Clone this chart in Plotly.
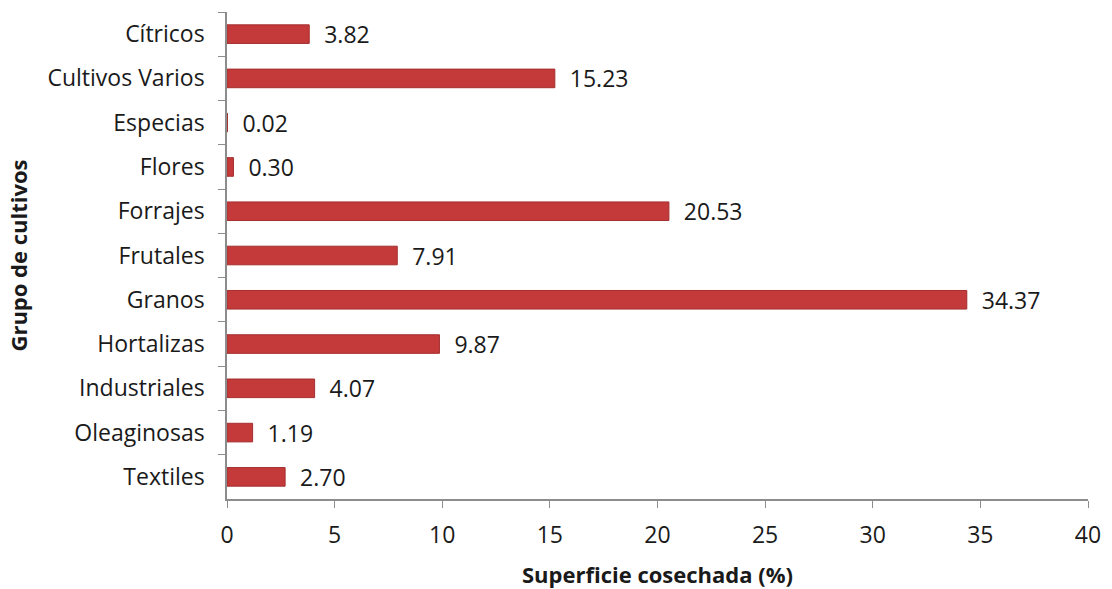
import plotly.graph_objects as go

# Crop groups and their share of harvested area (%)
grupos = ['Cítricos', 'Cultivos Varios', 'Especias', 'Flores', 'Forrajes', 'Frutales',
          'Granos', 'Hortalizas', 'Industriales', 'Oleaginosas', 'Textiles']
superficie = [3.82, 15.23, 0.02, 0.30, 20.53, 7.91, 34.37, 9.87, 4.07, 1.19, 2.70]
x_ticks = [0, 5, 10, 15, 20, 25, 30, 35, 40]

FONT = 'Open Sans'

fig = go.Figure()
fig.add_trace(go.Bar(
    x=superficie, y=grupos, orientation='h', width=0.42,
    marker=dict(color='#C43A3A', line=dict(color='#A52E2E', width=1)),
    texttemplate='  %{x:.2f}', textposition='outside', cliponaxis=False,
    constraintext='none',
    textfont=dict(family=FONT, size=23, color='#1a1a1a'),
))

fig.update_layout(
    width=1112, height=589,
    margin=dict(l=227, r=24, t=12, b=90),
    paper_bgcolor='white', plot_bgcolor='white',
    showlegend=False,
    font=dict(family=FONT, color='#1a1a1a'),
)
fig.update_xaxes(
    range=[0, 40], tickvals=x_ticks, showgrid=False, zeroline=False,
    showline=True, linecolor='#8c8c8c', linewidth=1.5,
    ticks='outside', ticklen=7, tickcolor='#8c8c8c', automargin=False,
    tickfont=dict(size=23), ticklabelstandoff=8,
    title=dict(text='<b>Superficie cosechada (%)</b>', font=dict(size=22), standoff=18),
)
fig.update_yaxes(
    categoryorder='array', categoryarray=grupos, range=[10.5, -0.5],
    showgrid=False, zeroline=False,
    showline=True, linecolor='#8c8c8c', linewidth=1.5,
    ticks='outside', ticklen=7, tickcolor='#8c8c8c', tickson='boundaries',
    automargin=False,
    tickfont=dict(size=23), ticklabelstandoff=16,
    title=dict(text='<b>Grupo de cultivos</b>', font=dict(size=22), standoff=14),
)

fig.write_html('out.html', config={'displayModeBar': False},
               post_script="document.body.style.margin='0';")
